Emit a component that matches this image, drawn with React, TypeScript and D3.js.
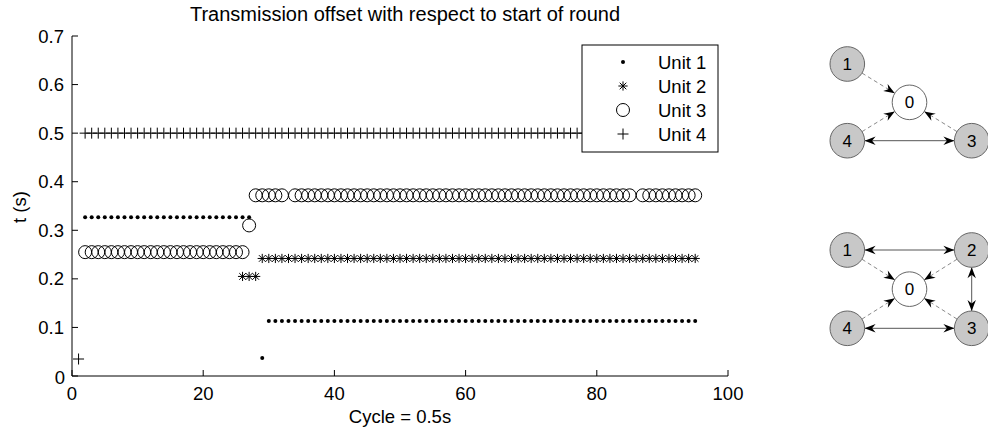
import React from "react";
import * as d3 from "d3";

// runs of constant offset: [firstCycle, lastCycle, t]
const unit1Runs: [number, number, number][] = [[2, 27, 0.327], [29, 29, 0.037], [30, 95, 0.113]];
const unit2Runs: [number, number, number][] = [[26, 28, 0.205], [29, 95, 0.242]];
const unit3Runs: [number, number, number][] = [[2, 26, 0.255], [27, 27, 0.31], [28, 32, 0.372], [34, 85, 0.372], [87, 95, 0.372]];
const unit4Runs: [number, number, number][] = [[1, 1, 0.035], [2, 95, 0.5]];

const legendLabels = ["Unit 1", "Unit 2", "Unit 3", "Unit 4"];
const xTicks = [0, 20, 40, 60, 80, 100];
const yTicks = [0, 0.1, 0.2, 0.3, 0.4, 0.5, 0.6, 0.7];

// network diagrams: node id, grid column, grid row
const topNodes: [string, number, number][] = [["1", 0, 0], ["0", 1, 1], ["4", 0, 2], ["3", 2, 2]];
const topEdges: [string, string, string][] = [["1", "0", "dash"], ["4", "0", "dash"], ["3", "0", "dash"], ["4", "3", "both"]];
const bottomNodes: [string, number, number][] = [["1", 0, 0], ["2", 2, 0], ["0", 1, 1], ["4", 0, 2], ["3", 2, 2]];
const bottomEdges: [string, string, string][] = [
  ["1", "0", "dash"], ["2", "0", "dash"], ["4", "0", "dash"], ["3", "0", "dash"],
  ["1", "2", "both"], ["2", "3", "both"], ["4", "3", "both"],
];

const expand = (runs: [number, number, number][]) => {
  const pts: { x: number; t: number }[] = [];
  runs.forEach(([a, b, t]) => {
    for (let c = a; c <= b; c++) pts.push({ x: c, t });
  });
  return pts;
};

const FONT = "'Liberation Sans', Arial, Helvetica, sans-serif";

const Marker = ({ kind, x, y }: { kind: number; x: number; y: number }) => {
  if (kind === 0) return <circle cx={x} cy={y} r={2} fill="#000" />;
  if (kind === 1) {
    const s = 4.6, d = 3.3;
    return (
      <path
        d={`M${x - s},${y}H${x + s}M${x},${y - s}V${y + s}M${x - d},${y - d}L${x + d},${y + d}M${x - d},${y + d}L${x + d},${y - d}`}
        stroke="#000" strokeWidth={1} fill="none"
      />
    );
  }
  if (kind === 2) return <circle cx={x} cy={y} r={6.5} fill="none" stroke="#000" strokeWidth={1} />;
  const s = 5.5;
  return <path d={`M${x - s},${y}H${x + s}M${x},${y - s}V${y + s}`} stroke="#000" strokeWidth={1} fill="none" />;
};

const Diagram = ({ nodes, edges, yRange, id }: { nodes: [string, number, number][]; edges: [string, string, string][]; yRange: [number, number]; id: string }) => {
  const gx = d3.scaleLinear().domain([0, 2]).range([847.3, 971.7]);
  const gy = d3.scaleLinear().domain([0, 2]).range(yRange);
  const r = 17.3;
  const pos: Record<string, [number, number]> = {};
  nodes.forEach(([n, c, rw]) => (pos[n] = [gx(c), gy(rw)]));
  return (
    <g>
      <defs>
        <marker id={`head-${id}`} viewBox="-12 -6 13 12" refX={0} refY={0} markerWidth={13} markerHeight={12}
          markerUnits="userSpaceOnUse" orient="auto-start-reverse">
          <path d="M0,0 L-11,-4.2 L-7.5,0 L-11,4.2 Z" fill="#000" />
        </marker>
      </defs>
      {edges.map(([a, b, kind], i) => {
        const [x1, y1] = pos[a];
        const [x2, y2] = pos[b];
        const len = Math.hypot(x2 - x1, y2 - y1);
        const ux = (x2 - x1) / len, uy = (y2 - y1) / len;
        return (
          <line key={i}
            x1={x1 + ux * r} y1={y1 + uy * r} x2={x2 - ux * r} y2={y2 - uy * r}
            stroke={kind === "dash" ? "#8a8a8a" : "#555"}
            strokeWidth={1}
            strokeDasharray={kind === "dash" ? "4,3" : undefined}
            markerEnd={`url(#head-${id})`}
            markerStart={kind === "both" ? `url(#head-${id})` : undefined}
          />
        );
      })}
      {nodes.map(([n]) => (
        <g key={n}>
          <circle cx={pos[n][0]} cy={pos[n][1]} r={r} fill={n === "0" ? "#fff" : "#c8c8c8"} stroke="#666" strokeWidth={1} />
          <text x={pos[n][0]} y={pos[n][1] + 6} textAnchor="middle" fontSize={17} fontFamily={FONT} fill="#000">{n}</text>
        </g>
      ))}
    </g>
  );
};

export default function App() {
  const xScale = d3.scaleLinear().domain([0, 100]).range([72, 728]);
  const yScale = d3.scaleLinear().domain([0, 0.7]).range([376, 36]);
  const series = [unit1Runs, unit2Runs, unit3Runs, unit4Runs].map(expand);
  const legendY = [62, 86, 110, 134];

  return (
    <svg width={988} height={432} style={{ position: "absolute", left: 0, top: 0, background: "#fff" }} fontFamily={FONT}>
      <rect width={988} height={432} fill="#fff" />
      <text x={405} y={21} textAnchor="middle" fontSize={20}>Transmission offset with respect to start of round</text>

      {/* data */}
      {series.map((pts, k) => (
        <g key={k}>
          {pts.map((p, i) => <Marker key={i} kind={k} x={xScale(p.x)} y={yScale(p.t)} />)}
        </g>
      ))}

      {/* axes */}
      <line x1={72} y1={yScale(0)} x2={72} y2={yScale(0.7)} stroke="#000" />
      <line x1={72} y1={yScale(0)} x2={728} y2={yScale(0)} stroke="#000" />
      {yTicks.map((t) => (
        <g key={t}>
          <line x1={72} x2={78} y1={yScale(t)} y2={yScale(t)} stroke="#000" />
          <text x={t === 0 ? 65 : 64} y={yScale(t) + (t === 0 ? 8 : 6.5)} textAnchor="end" fontSize={18.5}>{d3.format("")(+t.toFixed(1))}</text>
        </g>
      ))}
      {xTicks.map((c) => (
        <g key={c}>
          <line x1={xScale(c)} x2={xScale(c)} y1={376} y2={370} stroke="#000" />
          <text x={xScale(c)} y={400} textAnchor="middle" fontSize={18.5}>{c}</text>
        </g>
      ))}
      <text x={400} y={423} textAnchor="middle" fontSize={18.5}>Cycle = 0.5s</text>
      <text transform="translate(25.5,207) rotate(-90)" textAnchor="middle" fontSize={18.5}>t (s)</text>

      {/* legend */}
      <rect x={582} y={45} width={136} height={107} fill="#fff" stroke="#000" strokeWidth={1} />
      {legendLabels.map((lab, k) => (
        <g key={lab}>
          <Marker kind={k} x={623} y={legendY[k]} />
          <text x={658} y={legendY[k] + 6.5} fontSize={18.5}>{lab}</text>
        </g>
      ))}

      <Diagram nodes={topNodes} edges={topEdges} yRange={[64, 140.7]} id="top" />
      <Diagram nodes={bottomNodes} edges={bottomEdges} yRange={[250, 328.3]} id="bot" />
    </svg>
  );
}
